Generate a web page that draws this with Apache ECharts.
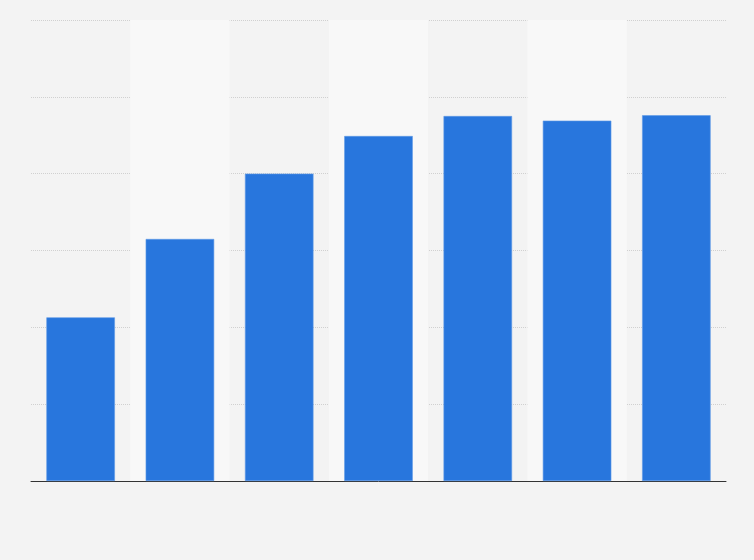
<!DOCTYPE html>
<html>
<head>
<meta charset="utf-8">
<script src="https://cdn.jsdelivr.net/npm/echarts@6/dist/echarts.min.js"></script>
<style>
html,body{margin:0;padding:0;background:#f3f3f3;}
#chart{width:754px;height:560px;}
</style>
</head>
<body>
<div id="chart"></div>
<script>
const categories = ['1', '2', '3', '4', '5', '6', '7'];
const values = [21.3, 31.5, 40.0, 44.9, 47.5, 46.9, 47.6];
const yTicks = [0, 10, 20, 30, 40, 50, 60];

const chart = echarts.init(document.getElementById('chart'));
chart.setOption({
  backgroundColor: '#f3f3f3',
  animation: false,
  grid: { left: 31, right: 28, top: 20, bottom: 79, containLabel: false },
  xAxis: {
    type: 'category',
    data: categories,
    axisLine: { show: true, lineStyle: { color: '#333', width: 1 } },
    axisTick: { show: false },
    axisLabel: { show: false },
    splitArea: { show: true, areaStyle: { color: ['rgba(0,0,0,0)', '#f8f8f8'] } }
  },
  yAxis: {
    type: 'value',
    min: yTicks[0],
    max: yTicks[yTicks.length - 1],
    interval: yTicks[1] - yTicks[0],
    axisLine: { show: false },
    axisTick: { show: false },
    axisLabel: { show: false },
    splitLine: { show: true, lineStyle: { color: '#d0d0d0', type: [1, 1], width: 1 } }
  },
  series: [{
    type: 'bar',
    data: values,
    barWidth: '69%',
    itemStyle: { color: '#2876dd', borderColor: '#5e98e6', borderWidth: 0.6 }
  }]
});
</script>
</body>
</html>
